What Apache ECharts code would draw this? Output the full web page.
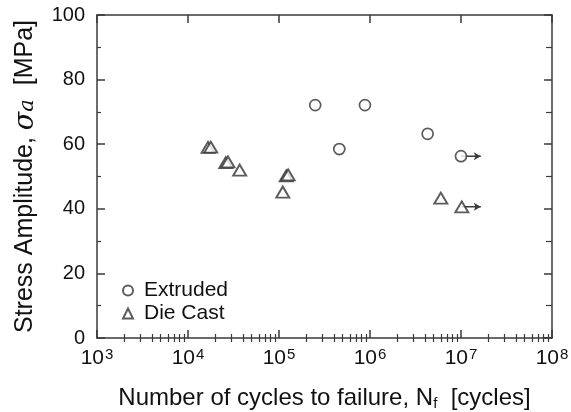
<!DOCTYPE html>
<html>
<head>
<meta charset="utf-8">
<script src="https://cdn.jsdelivr.net/npm/echarts@6/dist/echarts.min.js"></script>
<style>
  html, body { margin: 0; padding: 0; background: #fff; }
  #chart { width: 571px; height: 412px; }
</style>
</head>
<body>
<div id="chart"></div>
<script>
  // data
  let extrudedCycles = [2.5e5, 8.8e5, 4.6e5, 4.3e6, 1.0e7];
  let extrudedStress = [72.1, 72.1, 58.5, 63.2, 56.3];

  let dieCastCycles = [1.66e4, 1.78e4, 2.6e4, 2.75e4, 3.7e4, 1.2e5, 1.26e5, 1.1e5, 6.0e6, 1.02e7];
  let dieCastStress = [59.0, 59.1, 54.3, 54.5, 52.0, 50.2, 50.5, 45.2, 43.3, 40.6];

  // run-outs (no failure), drawn as arrows to the right
  let runoutFrom = [1.0e7, 1.02e7];
  let runoutTo = [1.65e7, 1.65e7];
  let runoutStress = [56.3, 40.6];

  let xMajor = [1e3, 1e4, 1e5, 1e6, 1e7, 1e8];
  let xMinor = [];
  xMajor.slice(0, -1).forEach(function (d) {
    for (let k = 2; k <= 9; k++) xMinor.push(d * k);
  });

  let lineColor = '#3a3a3a';
  let textColor = '#111';
  let font = '"Liberation Sans", Arial, sans-serif';

  let zip = function (xs, ys) {
    return xs.map(function (x, i) { return [x, ys[i]]; });
  };

  let runoutSeries = runoutFrom.map(function (x0, i) {
    return {
      type: 'line',
      xAxisIndex: 0,
      yAxisIndex: 0,
      silent: true,
      z: 1,
      lineStyle: { color: lineColor, width: 1.5 },
      itemStyle: { color: lineColor },
      data: [
        { value: [x0, runoutStress[i]], symbol: 'none' },
        { value: [runoutTo[i], runoutStress[i]], symbol: 'arrow', symbolSize: [6, 7], symbolRotate: -90 }
      ]
    };
  });

  // base x axis (labels, major ticks) + helper axes for minor ticks and top side
  let xBase = {
    type: 'log',
    logBase: 10,
    min: 1e3,
    max: 1e8,
    gridIndex: 0,
    splitLine: { show: false },
    axisLine: { onZero: false, lineStyle: { color: lineColor, width: 1.5 } }
  };

  let option = {
    backgroundColor: '#ffffff',
    animation: false,
    textStyle: { fontFamily: font },
    grid: { left: 97, right: 19, top: 15, bottom: 74, containLabel: false, outerBoundsMode: 'none' },
    legend: {
      data: ['Extruded', 'Die Cast'],
      orient: 'vertical',
      left: 117,
      top: 275,
      itemWidth: 10,
      itemHeight: 10,
      itemGap: 2,
      textStyle: { fontSize: 21, color: textColor, fontFamily: font, padding: [0, 0, 0, 6] }
    },
    xAxis: [
      Object.assign({}, xBase, {
        position: 'bottom',
        name: 'Number of cycles to failure, N{sub|f}  [cycles]',
        nameLocation: 'middle',
        nameGap: 48,
        nameTextStyle: {
          fontSize: 24, color: textColor, fontFamily: font,
          rich: { sub: { fontSize: 15, verticalAlign: 'bottom', padding: [10, 0, 0, 0], fontFamily: font, color: textColor } }
        },
        axisTick: { inside: true, length: 8, lineStyle: { color: lineColor, width: 1.5 } },
        axisLabel: {
          margin: 9,
          color: textColor,
          formatter: function (v) {
            return '{b|10}{s|' + Math.round(Math.log10(v)) + '}';
          },
          rich: {
            b: { fontSize: 21, fontFamily: font, color: textColor },
            s: { fontSize: 15, fontFamily: font, color: textColor, verticalAlign: 'top', padding: [0, 0, 8, 1] }
          }
        }
      }),
      Object.assign({}, xBase, {
        position: 'bottom',
        axisLine: { show: false },
        axisLabel: { show: false },
        axisTick: { inside: true, length: 4, customValues: xMinor, lineStyle: { color: lineColor, width: 1.2 } }
      }),
      Object.assign({}, xBase, {
        position: 'top',
        axisLabel: { show: false },
        axisTick: { inside: true, length: 8, lineStyle: { color: lineColor, width: 1.5 } }
      }),
      Object.assign({}, xBase, {
        position: 'top',
        axisLine: { show: false },
        axisLabel: { show: false },
        axisTick: { inside: true, length: 4, customValues: xMinor, lineStyle: { color: lineColor, width: 1.2 } }
      })
    ],
    yAxis: [
      {
        type: 'value',
        position: 'left',
        min: 0,
        max: 100,
        interval: 20,
        name: 'Stress Amplitude, {i|σ}{a|a}  [MPa]',
        nameLocation: 'middle',
        nameGap: 58,
        nameTextStyle: {
          fontSize: 25, color: textColor, fontFamily: font,
          rich: {
            i: { fontSize: 27, fontStyle: 'italic', fontFamily: '"DejaVu Serif", serif', color: textColor },
            a: { fontSize: 21, fontStyle: 'italic', fontFamily: '"DejaVu Serif", serif', color: textColor, padding: [5, 0, 0, 0] }
          }
        },
        splitLine: { show: false },
        axisLine: { onZero: false, lineStyle: { color: lineColor, width: 1.5 } },
        axisTick: { inside: true, length: 8, lineStyle: { color: lineColor, width: 1.5 } },
        minorTick: { show: true, splitNumber: 2, length: 4, lineStyle: { color: lineColor, width: 1.2 } },
        axisLabel: { margin: 12, fontSize: 20, color: textColor, fontFamily: font }
      },
      {
        type: 'value',
        position: 'right',
        min: 0,
        max: 100,
        interval: 20,
        splitLine: { show: false },
        axisLine: { onZero: false, lineStyle: { color: lineColor, width: 1.5 } },
        axisTick: { inside: true, length: 8, lineStyle: { color: lineColor, width: 1.5 } },
        minorTick: { show: true, splitNumber: 2, length: 6, lineStyle: { color: lineColor, width: 1.2 } },
        axisLabel: { show: false }
      }
    ],
    series: runoutSeries.concat([
      {
        name: 'Extruded',
        type: 'scatter',
        xAxisIndex: 0,
        yAxisIndex: 0,
        z: 3,
        symbol: 'circle',
        symbolSize: 11,
        itemStyle: { color: '#ffffff', borderColor: '#333', borderWidth: 1.7 },
        data: zip(extrudedCycles, extrudedStress)
      },
      {
        name: 'Die Cast',
        type: 'scatter',
        xAxisIndex: 0,
        yAxisIndex: 0,
        z: 3,
        symbol: 'triangle',
        symbolSize: [13, 11],
        itemStyle: { color: '#ffffff', borderColor: '#333', borderWidth: 1.9 },
        data: zip(dieCastCycles, dieCastStress)
      }
    ])
  };

  let chart = echarts.init(document.getElementById('chart'));
  chart.setOption(option);
</script>
</body>
</html>
